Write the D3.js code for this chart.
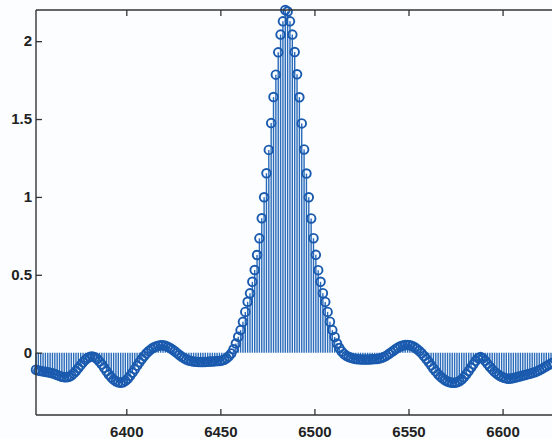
<!DOCTYPE html>
<html>
<head>
<meta charset="utf-8">
<script src="https://cdn.jsdelivr.net/npm/d3@7"></script>
<style>
  body { margin: 0; background: #fbfdff; }
  svg { display: block; }
  .axis text { font-family: "Liberation Sans", Arial, Helvetica, sans-serif; font-size: 15px; font-weight: bold; fill: #222; }
  .axis line { stroke: #333; stroke-width: 1.3; }
  .axis path { display: none; }
</style>
</head>
<body>
<div id="stem_chart"><svg width="552" height="439"></svg></div>
<script>
// sample positions (wavelength)
var wavelength = [
  6352, 6353.25, 6354.5, 6355.75, 6357, 6358.25, 6359.5, 6360.75, 6362, 6363.25,
  6364.5, 6365.75, 6367, 6368.25, 6369.5, 6370.75, 6372, 6373.25, 6374.5, 6375.75,
  6377, 6378.25, 6379.5, 6380.75, 6382, 6383.25, 6384.5, 6385.75, 6387, 6388.25,
  6389.5, 6390.75, 6392, 6393.25, 6394.5, 6395.75, 6397, 6398.25, 6399.5, 6400.75,
  6402, 6403.25, 6404.5, 6405.75, 6407, 6408.25, 6409.5, 6410.75, 6412, 6413.25,
  6414.5, 6415.75, 6417, 6418.25, 6419.5, 6420.75, 6422, 6423.25, 6424.5, 6425.75,
  6427, 6428.25, 6429.5, 6430.75, 6432, 6433.25, 6434.5, 6435.75, 6437, 6438.25,
  6439.5, 6440.75, 6442, 6443.25, 6444.5, 6445.75, 6447, 6448.25, 6449.5, 6450.75,
  6452, 6453.25, 6454.5, 6455.75, 6457, 6458.25, 6459.5, 6460.75, 6462, 6463.25,
  6464.5, 6465.75, 6467, 6468.25, 6469.5, 6470.75, 6472, 6473.25, 6474.5, 6475.75,
  6477, 6478.25, 6479.5, 6480.75, 6482, 6483.25, 6484.5, 6485.75, 6487, 6488.25,
  6489.5, 6490.75, 6492, 6493.25, 6494.5, 6495.75, 6497, 6498.25, 6499.5, 6500.75,
  6502, 6503.25, 6504.5, 6505.75, 6507, 6508.25, 6509.5, 6510.75, 6512, 6513.25,
  6514.5, 6515.75, 6517, 6518.25, 6519.5, 6520.75, 6522, 6523.25, 6524.5, 6525.75,
  6527, 6528.25, 6529.5, 6530.75, 6532, 6533.25, 6534.5, 6535.75, 6537, 6538.25,
  6539.5, 6540.75, 6542, 6543.25, 6544.5, 6545.75, 6547, 6548.25, 6549.5, 6550.75,
  6552, 6553.25, 6554.5, 6555.75, 6557, 6558.25, 6559.5, 6560.75, 6562, 6563.25,
  6564.5, 6565.75, 6567, 6568.25, 6569.5, 6570.75, 6572, 6573.25, 6574.5, 6575.75,
  6577, 6578.25, 6579.5, 6580.75, 6582, 6583.25, 6584.5, 6585.75, 6587, 6588.25,
  6589.5, 6590.75, 6592, 6593.25, 6594.5, 6595.75, 6597, 6598.25, 6599.5, 6600.75,
  6602, 6603.25, 6604.5, 6605.75, 6607, 6608.25, 6609.5, 6610.75, 6612, 6613.25,
  6614.5, 6615.75, 6617, 6618.25, 6619.5, 6620.75, 6622, 6623.25, 6624.5, 6625.75,
  6627
];

// stem heights
var amplitude = [
  -0.11, -0.115, -0.118, -0.12, -0.122, -0.125, -0.128, -0.132, -0.137, -0.143,
  -0.149, -0.154, -0.157, -0.158, -0.155, -0.146, -0.133, -0.117, -0.099, -0.08,
  -0.062, -0.046, -0.034, -0.026, -0.024, -0.029, -0.04, -0.056, -0.075, -0.097,
  -0.119, -0.14, -0.158, -0.173, -0.184, -0.19, -0.193, -0.19, -0.181, -0.167,
  -0.149, -0.128, -0.106, -0.083, -0.061, -0.04, -0.021, -0.004, 0.011, 0.023,
  0.033, 0.04, 0.045, 0.047, 0.047, 0.044, 0.038, 0.03, 0.02, 0.009,
  -0.003, -0.015, -0.026, -0.036, -0.044, -0.05, -0.054, -0.057, -0.058, -0.059,
  -0.06, -0.06, -0.059, -0.058, -0.057, -0.056, -0.055, -0.054, -0.053, -0.05,
  -0.045, -0.036, -0.023, -0.005, 0.022, 0.059, 0.102, 0.145, 0.198, 0.262,
  0.327, 0.381, 0.455, 0.531, 0.627, 0.734, 0.863, 0.998, 1.152, 1.302,
  1.474, 1.641, 1.785, 1.928, 2.042, 2.127, 2.2, 2.19, 2.127, 2.042,
  1.93, 1.787, 1.64, 1.472, 1.305, 1.15, 0.998, 0.862, 0.735, 0.628,
  0.53, 0.455, 0.382, 0.326, 0.262, 0.199, 0.145, 0.101, 0.059, 0.03,
  0.008, -0.008, -0.02, -0.028, -0.033, -0.037, -0.04, -0.042, -0.043, -0.044,
  -0.044, -0.044, -0.043, -0.042, -0.041, -0.04, -0.037, -0.033, -0.027, -0.019,
  -0.009, 0.002, 0.013, 0.024, 0.033, 0.041, 0.046, 0.049, 0.05, 0.048,
  0.043, 0.035, 0.024, 0.011, -0.004, -0.021, -0.04, -0.06, -0.081, -0.101,
  -0.12, -0.138, -0.153, -0.166, -0.177, -0.185, -0.19, -0.193, -0.193, -0.19,
  -0.183, -0.172, -0.157, -0.138, -0.117, -0.095, -0.074, -0.052, -0.035, -0.028,
  -0.036, -0.052, -0.072, -0.09, -0.107, -0.122, -0.135, -0.146, -0.155, -0.161,
  -0.165, -0.167, -0.166, -0.163, -0.159, -0.155, -0.151, -0.147, -0.143, -0.139,
  -0.135, -0.131, -0.126, -0.12, -0.113, -0.105, -0.096, -0.087, -0.078, -0.07,
  -0.063
];

var xTicks = [6400, 6450, 6500, 6550, 6600];
var yTicks = [0, 0.5, 1, 1.5, 2];

function stemPlot() {
  var svg = d3.select("#stem_chart svg"),
    left = 36,
    top = 10,
    bottom = 415,
    right = 559;

  var blue = "#1a5aae";

  var x = d3.scaleLinear().domain([6352, 6630]).range([left, right]),
    y = d3.scaleLinear().domain([-0.4, 2.2]).range([bottom, top]);

  var data = wavelength.map(function (w, i) {
    return { w: w, v: amplitude[i] };
  });

  // stems
  svg.append("g")
    .attr("class", "stems")
    .selectAll("line")
    .data(data)
    .enter().append("line")
    .attr("x1", function (d) { return x(d.w); })
    .attr("x2", function (d) { return x(d.w); })
    .attr("y1", y(0))
    .attr("y2", function (d) { return y(d.v); })
    .attr("stroke", "#2a6bba")
    .attr("stroke-width", 1.4);

  // markers
  svg.append("g")
    .attr("class", "markers")
    .selectAll("circle")
    .data(data)
    .enter().append("circle")
    .attr("cx", function (d) { return x(d.w); })
    .attr("cy", function (d) { return y(d.v); })
    .attr("r", 4.3)
    .attr("fill", "none")
    .attr("stroke", blue)
    .attr("stroke-width", 1.9);

  // frame + ticks (ticks point inward like matlab)
  svg.append("g")
    .attr("class", "axis axis--x")
    .attr("transform", "translate(0," + bottom + ")")
    .call(d3.axisBottom(x).tickValues(xTicks).tickSizeInner(-6).tickSizeOuter(0).tickPadding(11)
      .tickFormat(d3.format("d")));

  svg.append("g")
    .attr("class", "axis axis--top")
    .attr("transform", "translate(0," + top + ")")
    .call(d3.axisTop(x).tickValues(xTicks).tickSizeInner(-6).tickSizeOuter(0).tickFormat(""));

  svg.append("g")
    .attr("class", "axis axis--y")
    .attr("transform", "translate(" + left + ",0)")
    .call(d3.axisLeft(y).tickValues(yTicks).tickSizeInner(-6).tickSizeOuter(0).tickPadding(4)
      .tickFormat(function (d) { return d; }));

  var frame = svg.append("g").attr("class", "frame")
    .attr("stroke", "#333").attr("stroke-width", 1.4);
  frame.append("line").attr("x1", left).attr("x2", right).attr("y1", top).attr("y2", top);
  frame.append("line").attr("x1", left).attr("x2", right).attr("y1", bottom).attr("y2", bottom);
  frame.append("line").attr("x1", left).attr("x2", left).attr("y1", top).attr("y2", bottom);
}

stemPlot();
</script>
</body>
</html>
